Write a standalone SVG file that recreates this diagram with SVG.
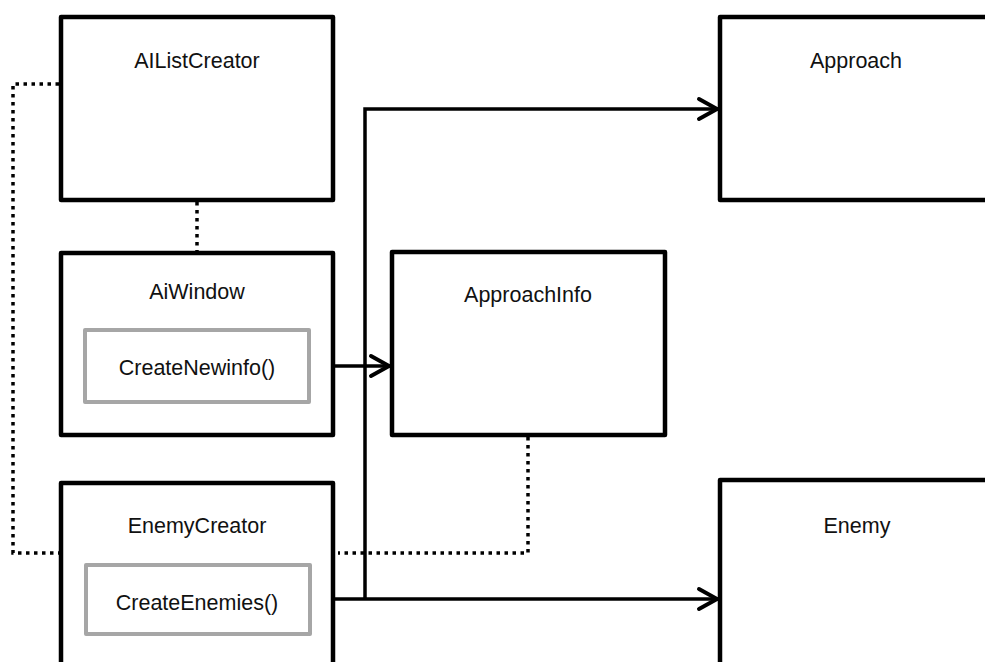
<svg xmlns="http://www.w3.org/2000/svg" width="985" height="662" viewBox="0 0 985 662">
  <defs>
    <style>
      .box { fill: #ffffff; stroke: #000000; stroke-width: 4.5; stroke-linejoin: round; }
      .inner { fill: #ffffff; stroke: #a6a6a6; stroke-width: 4; stroke-linejoin: round; }
      .lbl { font-family: "Liberation Sans", Arial, sans-serif; font-size: 21.5px; fill: #111111; text-anchor: middle; }
      .solid { fill: none; stroke: #000000; stroke-width: 3.5; }
      .dot { fill: none; stroke: #000000; stroke-width: 3.5; stroke-dasharray: 3.5 4.5; }
    </style>
    <marker id="arrow" markerUnits="userSpaceOnUse" viewBox="-24 -14 28 28" refX="0" refY="0" markerWidth="28" markerHeight="28" orient="auto">
      <path d="M-19,-10 L-1,0 L-19,10" fill="none" stroke="#000000" stroke-width="4" stroke-linecap="round" stroke-linejoin="round"/>
    </marker>
  </defs>
  <rect width="985" height="662" fill="#ffffff"/>

  <g id="connectors">
    <path class="dot" d="M59,84 H13 V553 H59"/>
    <path class="dot" d="M197,202 V251"/>
    <path class="dot" d="M528,437 V553 H338"/>
    <path class="solid" d="M335,366 H390" marker-end="url(#arrow)"/>
    <path class="solid" d="M365,599 V109 H718" marker-end="url(#arrow)"/>
    <path class="solid" d="M335,599 H718" marker-end="url(#arrow)"/>
  </g>

  <g id="AIListCreator">
    <rect class="box" x="61" y="17" width="272" height="183"/>
    <text class="lbl" x="197" y="68">AIListCreator</text>
  </g>

  <g id="AiWindow">
    <rect class="box" x="61" y="253" width="272" height="182"/>
    <text class="lbl" x="197" y="299">AiWindow</text>
    <g id="CreateNewinfo">
      <rect class="inner" x="85" y="330" width="224" height="72"/>
      <text class="lbl" x="197" y="375">CreateNewinfo()</text>
    </g>
  </g>

  <g id="ApproachInfo">
    <rect class="box" x="392" y="252" width="273" height="183"/>
    <text class="lbl" x="528" y="302">ApproachInfo</text>
  </g>

  <g id="Approach">
    <rect class="box" x="720" y="17" width="280" height="183"/>
    <text class="lbl" x="856" y="68">Approach</text>
  </g>

  <g id="EnemyCreator">
    <rect class="box" x="61" y="483" width="272" height="200"/>
    <text class="lbl" x="197" y="533">EnemyCreator</text>
    <g id="CreateEnemies">
      <rect class="inner" x="86" y="565" width="224" height="69"/>
      <text class="lbl" x="197" y="610">CreateEnemies()</text>
    </g>
  </g>

  <g id="Enemy">
    <rect class="box" x="720" y="480" width="280" height="200"/>
    <text class="lbl" x="857" y="533">Enemy</text>
  </g>
</svg>
